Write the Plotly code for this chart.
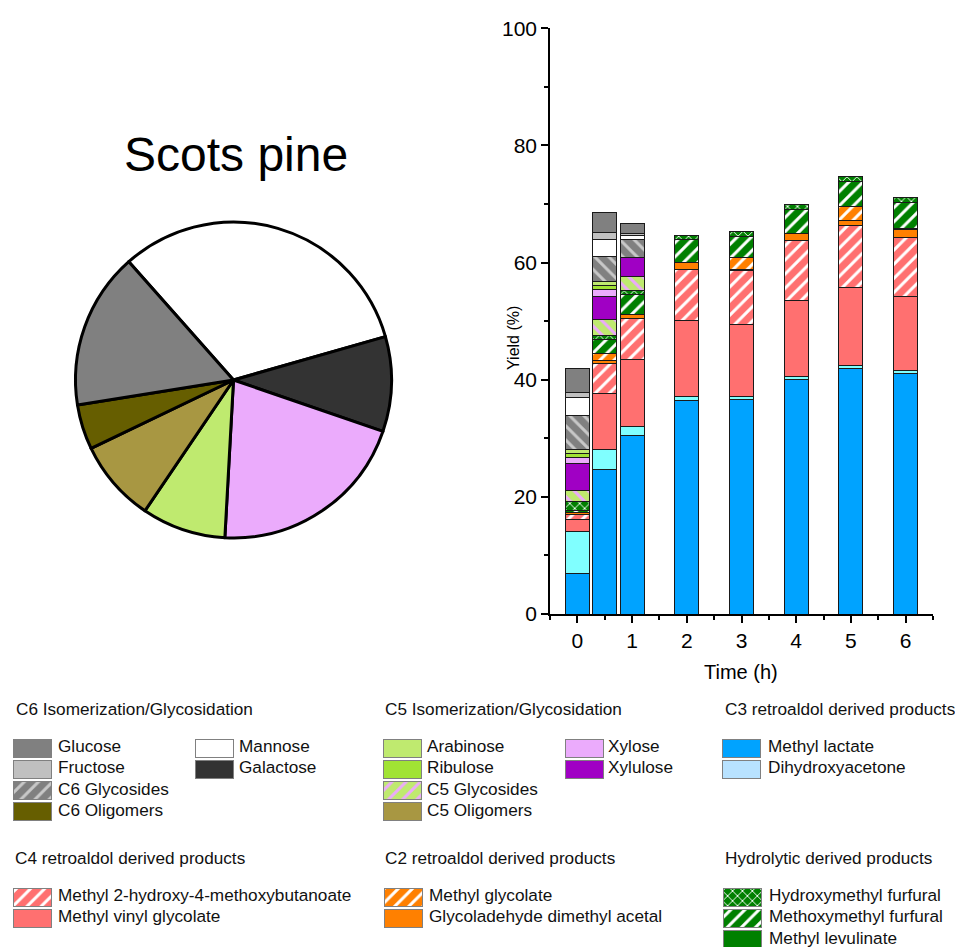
import plotly.graph_objects as go

W, H = 955, 947
FONT = "Liberation Sans, Arial, sans-serif"

# ---------------------------------------------------------------- data
times = [0, 0.5, 1, 2, 3, 4, 5, 6]
time_ticks = [0, 1, 2, 3, 4, 5, 6]

methyl_lactate = [6.95, 24.6, 30.45, 36.5, 36.7, 40.1, 41.95, 41.1]
dihydroxyacetone = [7.1, 3.5, 1.55, 0.7, 0.4, 0.5, 0.55, 0.45]
methyl_vinyl_glycolate = [2.1, 9.6, 11.5, 12.9, 12.4, 13.0, 13.2, 12.6]
methyl_hmb = [0.9, 5.1, 7.0, 8.8, 9.1, 10.1, 10.7, 10.2]
glycolaldehyde_dma = [0.3, 0.5, 0.7, 1.1, 0.3, 1.2, 0.75, 1.3]
methyl_glycolate = [0.0, 1.1, 0.0, 0.0, 1.9, 0.0, 2.4, 0.2]
methyl_levulinate = [0.0, 0.0, 0.0, 0.0, 0.0, 0.0, 0.0, 0.0]
methoxymethyl_furfural = [0.35, 2.55, 3.4, 4.0, 3.7, 4.2, 4.3, 4.4]
hydroxymethyl_furfural = [1.45, 0.65, 0.7, 0.7, 0.8, 0.85, 0.9, 0.9]
c5_glycosides = [2.0, 2.6, 2.3, 0, 0, 0, 0, 0]
xylulose = [4.6, 4.0, 3.3, 0, 0, 0, 0, 0]
xylose = [0.9, 1.25, 0, 0, 0, 0, 0, 0]
ribulose = [0.7, 0.6, 0, 0, 0, 0, 0, 0]
arabinose = [0.75, 0.8, 0, 0, 0, 0, 0, 0]
c6_glycosides = [5.8, 4.2, 3.1, 0, 0, 0, 0, 0]
mannose = [3.1, 2.85, 0.6, 0, 0, 0, 0, 0]
fructose = [0.85, 1.3, 0.4, 0, 0, 0, 0, 0]
glucose = [4.0, 3.4, 1.6, 0, 0, 0, 0, 0]

# Feedstock composition (pie), clockwise from the Mannose slice
pie_labels = ["Mannose", "Galactose", "Xylose", "Arabinose",
              "C5 Oligomers", "C6 Oligomers", "Glucose"]
pie_values = [32.1, 9.7, 20.6, 8.6, 8.4, 4.6, 16.0]

# Stack order, bottom to top
stack = [
    ("Methyl lactate", methyl_lactate),
    ("Dihydroxyacetone", dihydroxyacetone),
    ("Methyl vinyl glycolate", methyl_vinyl_glycolate),
    ("Methyl 2-hydroxy-4-methoxybutanoate", methyl_hmb),
    ("Glycoladehyde dimethyl acetal", glycolaldehyde_dma),
    ("Methyl glycolate", methyl_glycolate),
    ("Methyl levulinate", methyl_levulinate),
    ("Methoxymethyl furfural", methoxymethyl_furfural),
    ("Hydroxymethyl furfural", hydroxymethyl_furfural),
    ("C5 Glycosides", c5_glycosides),
    ("Xylulose", xylulose),
    ("Xylose", xylose),
    ("Ribulose", ribulose),
    ("Arabinose", arabinose),
    ("C6 Glycosides", c6_glycosides),
    ("Mannose", mannose),
    ("Fructose", fructose),
    ("Glucose", glucose),
]

# ---------------------------------------------------------------- styles
# name: (fill colour, bar hatch, legend hatch, hatch colour)
STYLE = {
    "Glucose": ("#808080", "", "", None),
    "Fructose": ("#C0C0C0", "", "", None),
    "C6 Glycosides": ("#808080", "\\", "/", "#C8C8C8"),
    "C6 Oligomers": ("#665E00", "", "", None),
    "Mannose": ("#FFFFFF", "", "", None),
    "Galactose": ("#333333", "", "", None),
    "Arabinose": ("#BFEA6F", "", "", None),
    "Ribulose": ("#A1E334", "", "", None),
    "C5 Glycosides": ("#BFEA6F", "\\", "/", "#EBAAFB"),
    "C5 Oligomers": ("#A89742", "", "", None),
    "Xylose": ("#EBABFC", "", "", None),
    "Xylulose": ("#A000C4", "", "", None),
    "Methyl lactate": ("#00A3FF", "", "", None),
    "Dihydroxyacetone": ("#80FFFF", "", "", None),
    "Methyl 2-hydroxy-4-methoxybutanoate": ("#FF7070", "/", "/", "#FFFFFF"),
    "Methyl vinyl glycolate": ("#FF7070", "", "", None),
    "Methyl glycolate": ("#FF8000", "/", "/", "#FFFFFF"),
    "Glycoladehyde dimethyl acetal": ("#FF8000", "", "", None),
    "Hydroxymethyl furfural": ("#008000", "x", "x", "#FFFFFF"),
    "Methoxymethyl furfural": ("#008000", "/", "/", "#FFFFFF"),
    "Methyl levulinate": ("#008000", "", "", None),
}
LEGEND_FILL = {"Dihydroxyacetone": "#B8E2FF"}


def marker_for(name, legend=False):
    fill, bar_hatch, leg_hatch, hatch_col = STYLE[name]
    if legend:
        fill = LEGEND_FILL.get(name, fill)
    hatch = leg_hatch if legend else bar_hatch
    m = dict(color=fill,
             line=dict(color="#808080" if legend else "#1A1A1A", width=1))
    if hatch:
        m["pattern"] = dict(shape=hatch, bgcolor=fill, fgcolor=hatch_col,
                            fgopacity=1, size=7 if hatch == "x" else 10,
                            solidity=0.3 if hatch != "x" else 0.25,
                            fillmode="overlay")
    return m


fig = go.Figure()

# ---------------------------------------------------------------- pie
cx, cy, r = 233.5, 380.0, 158.0
fig.add_trace(go.Pie(
    labels=pie_labels, values=pie_values, sort=False,
    direction="clockwise", rotation=318.5,
    marker=dict(colors=[STYLE[n][0] for n in pie_labels],
                line=dict(color="#000000", width=3)),
    textinfo="none", hoverinfo="label+value",
    domain=dict(x=[(cx - r) / W, (cx + r) / W],
                y=[1 - (cy + r) / H, 1 - (cy - r) / H]),
    showlegend=False, automargin=False,
))

# ---------------------------------------------------------------- stacked bars
for name, vals in stack:
    fig.add_trace(go.Bar(
        x=times, y=vals, name=name, width=0.44,
        marker=marker_for(name), showlegend=False,
        xaxis="x", yaxis="y",
    ))

# ---------------------------------------------------------------- grouped legend
# (title, title x, title y, [(swatch x, label x, names, first row y)]) in px
legend_groups = [
    ("C6 Isomerization/Glycosidation", 16, 711,
     [(13, 58, ["Glucose", "Fructose", "C6 Glycosides", "C6 Oligomers"], 748),
      (195, 239, ["Mannose", "Galactose"], 748)]),
    ("C5 Isomerization/Glycosidation", 385, 711,
     [(383, 427, ["Arabinose", "Ribulose", "C5 Glycosides", "C5 Oligomers"], 748),
      (565, 608, ["Xylose", "Xylulose"], 748)]),
    ("C3 retroaldol derived products", 725, 711,
     [(722, 768, ["Methyl lactate", "Dihydroxyacetone"], 748)]),
    ("C4 retroaldol derived products", 15, 860,
     [(13, 58, ["Methyl 2-hydroxy-4-methoxybutanoate",
                "Methyl vinyl glycolate"], 897)]),
    ("C2 retroaldol derived products", 385, 860,
     [(384, 429, ["Methyl glycolate", "Glycoladehyde dimethyl acetal"], 897)]),
    ("Hydrolytic derived products", 725, 860,
     [(723, 769, ["Hydroxymethyl furfural", "Methoxymethyl furfural",
                  "Methyl levulinate"], 897)]),
]
SW_W, SW_H, ROW = 38, 18, 21.2

text_x, text_y, text_s = [], [], []
for title, tx, ty, columns in legend_groups:
    text_x.append(tx)
    text_y.append(ty)
    text_s.append(title)
    for sx, lx, names, y0 in columns:
        for i, name in enumerate(names):
            yc = y0 + i * ROW
            fig.add_trace(go.Bar(
                orientation="h", y=[yc], x=[SW_W], base=[sx], width=[SW_H],
                marker=marker_for(name, legend=True), showlegend=False,
                hoverinfo="skip", xaxis="x2", yaxis="y2",
            ))
            text_x.append(lx)
            text_y.append(yc)
            text_s.append(name)

fig.add_trace(go.Scatter(
    x=text_x, y=text_y, text=text_s, mode="text",
    textposition="middle right",
    textfont=dict(family=FONT, size=17.2, color="#111111"),
    hoverinfo="skip", showlegend=False, cliponaxis=True,
    xaxis="x2", yaxis="y2",
))

# titles
annotations = [
    dict(text="Scots pine", x=235.5 / W, y=1 - 155 / H, xref="paper",
         yref="paper", xanchor="center", yanchor="middle", showarrow=False,
         font=dict(family=FONT, size=48, color="#000000")),
    dict(text="Time (h)", x=741 / W, y=1 - 672 / H, xref="paper",
         yref="paper", xanchor="center", yanchor="middle", showarrow=False,
         font=dict(family=FONT, size=20, color="#000000")),
    dict(text="Yield (%)", x=513 / W, y=1 - 338 / H, xref="paper",
         yref="paper", xanchor="center", yanchor="middle", showarrow=False,
         textangle=-90, font=dict(family=FONT, size=16, color="#000000")),
]

axis_common = dict(showgrid=False, zeroline=False, showline=True,
                   linecolor="#000000", linewidth=1.5, ticks="outside",
                   ticklen=7, tickwidth=1.5, tickcolor="#000000",
                   tickfont=dict(family=FONT, size=21, color="#000000"),
                   fixedrange=True, automargin=False)

fig.update_layout(
    width=W, height=H, autosize=False,
    margin=dict(l=0, r=0, t=0, b=0, pad=0, autoexpand=False),
    paper_bgcolor="#FFFFFF", plot_bgcolor="rgba(0,0,0,0)",
    barmode="stack", showlegend=False,
    xaxis=dict(domain=[550 / W, 933 / W], range=[-0.5, 6.5],
               tickmode="array", tickvals=time_ticks,
               minor=dict(ticks="outside", ticklen=4, tickwidth=1.5,
                          tickcolor="#000000", tick0=-0.5, dtick=1),
               anchor="y", **axis_common),
    yaxis=dict(domain=[1 - 614 / H, 1 - 28.3 / H], range=[0, 100],
               tickmode="linear", tick0=0, dtick=20,
               minor=dict(ticks="outside", ticklen=4, tickwidth=1.5,
                          tickcolor="#000000", tick0=0, dtick=10),
               anchor="x", **axis_common),
    xaxis2=dict(domain=[0, 1], range=[0, W], visible=False,
                anchor="y2", fixedrange=True, automargin=False),
    yaxis2=dict(domain=[0, 1], range=[H, 0], visible=False,
                anchor="x2", fixedrange=True, automargin=False),
    annotations=annotations,
)

fig.write_html("out.html")
